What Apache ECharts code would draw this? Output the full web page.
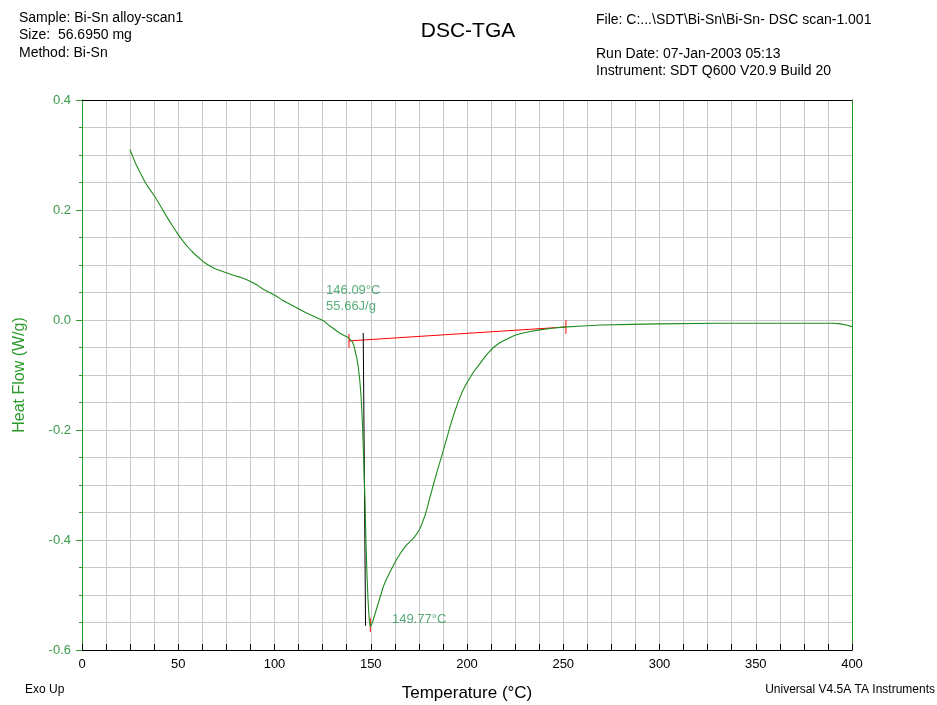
<!DOCTYPE html>
<html><head><meta charset="utf-8">
<script src="https://cdn.jsdelivr.net/npm/echarts@6/dist/echarts.min.js"></script>
<style>html,body{margin:0;padding:0;background:#fff}#c{width:937px;height:705px}</style>
</head><body><div id="c"></div>
<script>
// ---- data ----
const temperature = [24.9, 28, 30.5, 32.7, 35.3, 37.9, 41, 44, 47.2, 50.4, 53.7, 57, 60, 63, 66, 69.1, 72.4, 75.7, 79, 82, 85, 88.1, 91.2, 94.2, 97.4, 100.6, 103.7, 106.8, 110, 113.2, 116.3, 119.5, 122.6, 125.7, 128, 130.4, 132.3, 134, 136.2, 138.3, 139.5, 140.5, 141.2, 141.8, 142.7, 143.5, 144.3, 145, 145.7, 146.3, 147, 147.5, 148, 148.6, 149.2, 149.77, 150.5, 151.3, 152.6, 153.9, 155.2, 156.5, 158.2, 160, 161.8, 163.5, 166, 168.6, 170.4, 172.1, 173.9, 175.6, 176.9, 178.2, 179.3, 180.4, 182.5, 184.6, 186.8, 189, 191.2, 193.3, 195.5, 197.6, 199.8, 203.3, 206.8, 210.2, 213.7, 217.2, 220.6, 224, 227.5, 232.7, 237.9, 244, 250, 260, 270, 285, 300, 330, 360, 380, 390, 394, 397, 400];
const heatFlow = [0.310, 0.283, 0.266, 0.251, 0.237, 0.224, 0.206, 0.188, 0.170, 0.153, 0.138, 0.125, 0.115, 0.106, 0.099, 0.093, 0.089, 0.085, 0.081, 0.078, 0.074, 0.069, 0.063, 0.056, 0.050, 0.044, 0.037, 0.031, 0.025, 0.019, 0.013, 0.008, 0.003, -0.002, -0.009, -0.015, -0.020, -0.024, -0.028, -0.032, -0.036, -0.040, -0.046, -0.055, -0.068, -0.085, -0.110, -0.14, -0.19, -0.25, -0.33, -0.40, -0.46, -0.51, -0.545, -0.557, -0.553, -0.545, -0.530, -0.515, -0.500, -0.485, -0.471, -0.458, -0.446, -0.435, -0.421, -0.409, -0.403, -0.397, -0.389, -0.379, -0.368, -0.355, -0.342, -0.327, -0.300, -0.274, -0.248, -0.221, -0.194, -0.170, -0.148, -0.130, -0.115, -0.095, -0.079, -0.063, -0.050, -0.041, -0.035, -0.029, -0.025, -0.021, -0.018, -0.015, -0.013, -0.011, -0.009, -0.008, -0.007, -0.006, -0.006, -0.006, -0.006, -0.007, -0.009, -0.012];
const baselineT = [138.7, 251.4];
const baselineHF = [-0.038, -0.0127];
const baselineTickHalf = 0.0125;
const onsetLineT = [146.09, 147.3];
const onsetLineHF = [-0.0236, -0.556];
const peakT = 149.77;
const peakTickHF = [-0.542, -0.567];
const onsetLabel = ['146.09°C', '55.66J/g'];
const peakLabel = '149.77°C';
const xTickLabels = [0, 50, 100, 150, 200, 250, 300, 350, 400];
const yTickLabels = [-0.6, -0.4, -0.2, 0.0, 0.2, 0.4];
const headerLeft = ['Sample: Bi-Sn alloy-scan1', 'Size:  56.6950 mg', 'Method: Bi-Sn'];
const headerRight = ['File: C:...\\SDT\\Bi-Sn\\Bi-Sn- DSC scan-1.001', '', 'Run Date: 07-Jan-2003 05:13', 'Instrument: SDT Q600 V20.9 Build 20'];

// ---- chart ----
const GREEN = '#2a9a2a';
const LABEL_GREEN = '#3a9a4a';
const GRIDC = '#c8c8c8';
const FONT = '"Liberation Sans", Arial, sans-serif';

const curve = temperature.map((t, i) => [t, heatFlow[i]]);
const seg = (a, b, color, w) => ({
  type: 'line', data: [a, b], showSymbol: false, silent: true, animation: false,
  lineStyle: { color: color, width: w }, z: 3
});
const txt = (size) => ({ fontFamily: FONT, fontSize: size, fontWeight: 'normal', color: '#000' });

const chart = echarts.init(document.getElementById('c'), null, { renderer: 'canvas' });
chart.setOption({
  animation: false,
  backgroundColor: '#fff',
  title: [
    { text: 'DSC-TGA', left: 468, top: 21, padding: 0, textAlign: 'center', textStyle: txt(21) },
    { text: headerLeft.join('\n'), left: 19, top: 9, padding: 0, textStyle: Object.assign(txt(14), { lineHeight: 17.5 }) },
    { text: headerRight.join('\n'), left: 596, top: 11, padding: 0, textStyle: Object.assign(txt(14), { lineHeight: 17.3 }) },
    { text: 'Exo Up', left: 25, top: 684, padding: 0, textStyle: txt(12) },
    { text: 'Universal V4.5A TA Instruments', right: 2, top: 684, padding: 0, textStyle: txt(12) }
  ],
  grid: { left: 82, top: 100, width: 770, height: 550, containLabel: false, outerBoundsMode: 'none' },
  xAxis: [
    {
      type: 'value', min: xTickLabels[0], max: xTickLabels[xTickLabels.length - 1], interval: 50, position: 'bottom',
      name: 'Temperature (°C)', nameLocation: 'middle', nameGap: 35,
      nameTextStyle: { fontFamily: FONT, fontSize: 17, color: '#000', verticalAlign: 'top' },
      axisLine: { show: true, onZero: false, lineStyle: { color: '#000', width: 1 } },
      axisTick: { show: true, inside: true, length: 6, lineStyle: { color: '#000' } },
      minorTick: { show: true, splitNumber: 4, length: 6, lineStyle: { color: '#000' } },
      splitLine: { show: true, lineStyle: { color: GRIDC, width: 1 } },
      minorSplitLine: { show: true, lineStyle: { color: GRIDC, width: 1 } },
      axisLabel: { color: '#000', fontFamily: FONT, fontSize: 13, margin: 8 }
    },
    {
      type: 'value', min: 0, max: 400, position: 'top',
      axisLine: { show: true, onZero: false, lineStyle: { color: '#000', width: 1 } },
      axisTick: { show: false }, axisLabel: { show: false }, splitLine: { show: false }
    }
  ],
  yAxis: [
    {
      type: 'value', min: yTickLabels[0], max: yTickLabels[yTickLabels.length - 1], interval: 0.2, position: 'left',
      name: 'Heat Flow (W/g)', nameLocation: 'middle', nameGap: 54,
      nameTextStyle: { fontFamily: FONT, fontSize: 16, color: GREEN },
      axisLine: { show: true, onZero: false, lineStyle: { color: GREEN, width: 1 } },
      axisTick: { show: true, length: 6, lineStyle: { color: GREEN } },
      minorTick: { show: true, splitNumber: 4, length: 3, lineStyle: { color: GREEN } },
      splitLine: { show: true, lineStyle: { color: GRIDC, width: 1 } },
      minorSplitLine: { show: true, lineStyle: { color: GRIDC, width: 1 } },
      axisLabel: { color: LABEL_GREEN, fontFamily: FONT, fontSize: 13, margin: 11, formatter: v => v.toFixed(1) }
    },
    {
      type: 'value', min: -0.6, max: 0.4, position: 'right',
      axisLine: { show: true, onZero: false, lineStyle: { color: GREEN, width: 1 } },
      axisTick: { show: false }, axisLabel: { show: false }, splitLine: { show: false }
    }
  ],
  series: [
    {
      type: 'line', data: curve, showSymbol: false, smooth: false,
      lineStyle: { color: '#1e8c1e', width: 1.1 }, z: 4, silent: true
    },
    seg([baselineT[0], baselineHF[0]], [baselineT[1], baselineHF[1]], '#ff0000', 1),
    seg([baselineT[0], baselineHF[0] + baselineTickHalf], [baselineT[0], baselineHF[0] - baselineTickHalf], '#ff0000', 1),
    seg([baselineT[1], baselineHF[1] + baselineTickHalf], [baselineT[1], baselineHF[1] - baselineTickHalf], '#ff0000', 1),
    seg([onsetLineT[0], onsetLineHF[0]], [onsetLineT[1], onsetLineHF[1]], '#000', 1),
    seg([peakT, peakTickHF[0]], [peakT, peakTickHF[1]], '#ff0000', 1),
    {
      type: 'scatter', symbolSize: 0, silent: true, z: 5,
      label: { show: true, position: 'right', distance: 0, color: '#2e9a5a', fontFamily: FONT, fontSize: 13, formatter: p => p.name },
      data: [
        { name: onsetLabel[0], value: [126.8, 0.053] },
        { name: onsetLabel[1], value: [126.8, 0.024] },
        { name: peakLabel, value: [161, -0.544] }
      ]
    }
  ]
});
</script></body></html>
